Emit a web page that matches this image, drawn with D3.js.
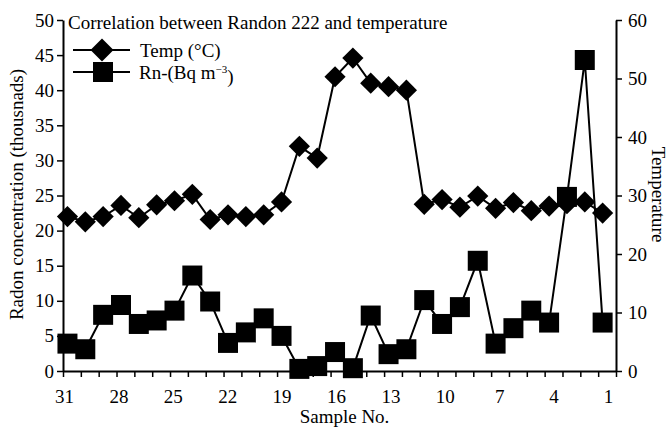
<!DOCTYPE html>
<html>
<head>
<meta charset="utf-8">
<script src="https://cdnjs.cloudflare.com/ajax/libs/d3/7.8.5/d3.min.js"></script>
<style>
  body { margin: 0; background: #fff; }
  svg { display: block; font-family: "Liberation Serif", "Times New Roman", serif; }
  .axis path, .axis line { stroke: #000; }
  .axis text { fill: #000; }
</style>
</head>
<body>
<div id="chart"></div>
<script>
// data
var samples = [31, 30, 29, 28, 27, 26, 25, 24, 23, 22, 21, 20, 19, 18, 17, 16,
               15, 14, 13, 12, 11, 10, 9, 8, 7, 6, 5, 4, 3, 2, 1];
var temperature = [26.4, 25.5, 26.4, 28.3, 26.2, 28.4, 29.1, 30.2, 25.9, 26.7, 26.4,
                   26.7, 28.9, 38.4, 36.4, 50.3, 53.5, 49.2, 48.6, 48.0, 28.5,
                   29.3, 28.0, 29.9, 27.8, 28.8, 27.4, 28.2, 28.6, 28.9, 27.0];
var radon = [3.9, 3.1, 8.0, 9.4, 6.7, 7.2, 8.6, 13.6, 9.9, 4.0, 5.5,
             7.5, 5.0, 0.3, 0.7, 2.7, 0.4, 7.9, 2.4, 3.1, 10.1,
             6.7, 9.1, 15.7, 3.9, 6.1, 8.6, 6.9, 24.8, 44.3, 6.9];
var radonTicks = [0, 5, 10, 15, 20, 25, 30, 35, 40, 45, 50];
var tempTicks = [0, 10, 20, 30, 40, 50, 60];
var sampleLabels = [31, 28, 25, 22, 19, 16, 13, 10, 7, 4, 1];
var chartTitle = "Correlation between Randon 222 and temperature";
var legendNames = ["Temp (\u00B0C)", "Rn-(Bq m"];

var Dual_Line_Chart = function(opt) {
  this.element = opt.element;
  this.width = opt.width;
  this.height = opt.height;
  this.margin = opt.margin;
  this.fontSize = opt.fontSize;
  this.draw();
};

Dual_Line_Chart.prototype.draw = function() {
  this.plotW = this.width - this.margin.left - this.margin.right;
  this.plotH = this.height - this.margin.top - this.margin.bottom;

  this.svg = d3.select(this.element).append("svg")
    .attr("width", this.width)
    .attr("height", this.height)
    .style("font-size", this.fontSize + "px");

  this.svg.append("rect")
    .attr("width", this.width).attr("height", this.height)
    .attr("fill", "#fff");

  this.plot = this.svg.append("g")
    .attr("transform", "translate(" + this.margin.left + "," + this.margin.top + ")");

  this.temp = samples.map(function(s, i) { return {sample: s, value: temperature[i]}; });
  this.rn = samples.map(function(s, i) { return {sample: s, value: radon[i]}; });

  this.generateScales();
  this.addAxis();
  this.addSeries();
  this.addLegend();
};

Dual_Line_Chart.prototype.generateScales = function() {
  // ticks sit between sample positions, a quarter step to the left
  this.xScale = d3.scaleLinear().domain([31.25, 0.25]).range([0, this.plotW]);
  this.labelScale = d3.scaleLinear().domain([31, 1]).range([1, this.plotW - 8]);
  this.yLeft = d3.scaleLinear().domain([0, 50]).range([this.plotH, 0]);
  this.yRight = d3.scaleLinear().domain([0, 60]).range([this.plotH, 0]);
};

Dual_Line_Chart.prototype.addAxis = function() {
  var left = this.plot.append("g").attr("class", "axis")
    .call(d3.axisLeft(this.yLeft).tickValues(radonTicks)
      .tickSize(6).tickSizeOuter(0).tickPadding(3));

  var right = this.plot.append("g").attr("class", "axis")
    .attr("transform", "translate(" + this.plotW + ",0)")
    .call(d3.axisRight(this.yRight).tickValues(tempTicks)
      .tickSize(6).tickSizeOuter(0).tickPadding(6));

  var bottom = this.plot.append("g").attr("class", "axis")
    .attr("transform", "translate(0," + this.plotH + ")")
    .call(d3.axisBottom(this.xScale).tickValues(d3.range(31.25, 0, -1))
      .tickFormat("").tickSize(6).tickSizeOuter(0));

  var labels = this.plot.append("g").attr("class", "axis")
    .attr("transform", "translate(0," + this.plotH + ")")
    .call(d3.axisBottom(this.labelScale).tickValues(sampleLabels)
      .tickSize(0).tickPadding(19));
  labels.select(".domain").remove();

  [left, right, bottom].forEach(function(g) {
    g.select(".domain").attr("stroke-width", 2);
    g.selectAll(".tick line").attr("stroke-width", 1.5);
  });
  // d3 puts sans-serif on the axis groups, drop it so the serif font is used
  this.plot.selectAll(".axis").attr("font-family", null).attr("font-size", this.fontSize);

  this.plot.append("text")
    .attr("transform", "translate(" + (16 - this.margin.left) + "," + (this.plotH / 2 - 1) + ") rotate(-90)")
    .attr("text-anchor", "middle")
    .attr("dy", "0.35em")
    .text("Radon concentration (thousnads)");

  this.plot.append("text")
    .attr("transform", "translate(" + (this.plotW + 43) + "," + (this.plotH / 2 - 1) + ") rotate(90)")
    .attr("text-anchor", "middle")
    .attr("dy", "0.35em")
    .text("Temperature");

  this.plot.append("text")
    .attr("x", this.plotW / 2 + 5)
    .attr("y", this.plotH + 52)
    .attr("text-anchor", "middle")
    .text("Sample No.");

  this.plot.append("text")
    .attr("x", 5)
    .attr("y", 9)
    .text(chartTitle);
};

Dual_Line_Chart.prototype.addSeries = function() {
  var that = this;

  var tempLine = d3.line()
    .x(function(d) { return that.xScale(d.sample); })
    .y(function(d) { return that.yRight(d.value); });
  var rnLine = d3.line()
    .x(function(d) { return that.xScale(d.sample); })
    .y(function(d) { return that.yLeft(d.value); });

  this.plot.append("path")
    .datum(this.temp)
    .attr("fill", "none").attr("stroke", "#000").attr("stroke-width", 2)
    .attr("d", tempLine);

  this.plot.selectAll(".diamond")
    .data(this.temp)
    .enter().append("path")
    .attr("class", "diamond")
    .attr("d", d3.symbol().type(d3.symbolSquare).size(225))
    .attr("transform", function(d) {
      return "translate(" + that.xScale(d.sample) + "," + that.yRight(d.value) + ") rotate(45)";
    })
    .attr("fill", "#000");

  this.plot.append("path")
    .datum(this.rn)
    .attr("fill", "none").attr("stroke", "#000").attr("stroke-width", 2)
    .attr("d", rnLine);

  this.plot.selectAll(".square")
    .data(this.rn)
    .enter().append("path")
    .attr("class", "square")
    .attr("d", d3.symbol().type(d3.symbolSquare).size(400))
    .attr("transform", function(d) {
      return "translate(" + that.xScale(d.sample) + "," + that.yLeft(d.value) + ")";
    })
    .attr("fill", "#000");
};

Dual_Line_Chart.prototype.addLegend = function() {
  var legend = this.svg.append("g").attr("transform", "translate(73,50)");

  legend.append("line").attr("x1", 0).attr("x2", 57).attr("y1", 0).attr("y2", 0)
    .attr("stroke", "#000").attr("stroke-width", 2);
  legend.append("path")
    .attr("d", d3.symbol().type(d3.symbolSquare).size(265))
    .attr("transform", "translate(29,0) rotate(45)");
  legend.append("text").attr("x", 67).attr("y", 0).attr("dy", "0.35em")
    .text(legendNames[0]);

  legend.append("line").attr("x1", 0).attr("x2", 57).attr("y1", 22).attr("y2", 22)
    .attr("stroke", "#000").attr("stroke-width", 2);
  legend.append("path")
    .attr("d", d3.symbol().type(d3.symbolSquare).size(400))
    .attr("transform", "translate(30,22)");
  var rnText = legend.append("text").attr("x", 66).attr("y", 22).attr("dy", "0.35em");
  rnText.append("tspan").text(legendNames[1]);
  rnText.append("tspan").attr("dy", "-0.55em").attr("font-size", "11px").text("\u22123");
  rnText.append("tspan").attr("dy", "0.55em").text(")");
};

new Dual_Line_Chart({
  element: "#chart",
  width: 669,
  height: 427,
  margin: {top: 20, right: 53, bottom: 56, left: 63},
  fontSize: 19
});
</script>
</body>
</html>
